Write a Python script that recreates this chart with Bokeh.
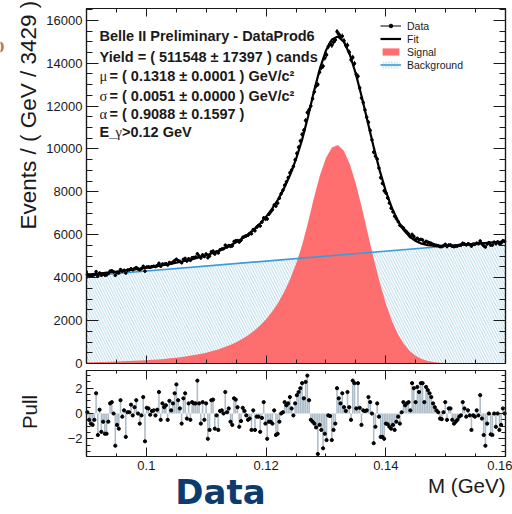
import numpy as np
from bokeh.plotting import figure
from bokeh.models import (Range1d, LinearAxis, FixedTicker, Label, Legend,
                          LegendItem)
from bokeh.embed import file_html
from bokeh.resources import INLINE

# ---------------------------------------------------------------- data ----
x_lo, x_hi = 0.09, 0.16

# events per bin (240 bins of 1/3429 GeV)
counts = [
    4144, 4115, 4103, 4106, 4140, 4283, 4079, 4217, 4112, 4173,
    4120, 4129, 4201, 4304, 4320, 4271, 4113, 4230, 4220, 4378,
    4302, 4344, 4216, 4355, 4365, 4414, 4369, 4422, 4470, 4410,
    4368, 4422, 4531, 4308, 4497, 4506, 4484, 4516, 4533, 4519,
    4562, 4670, 4534, 4636, 4629, 4654, 4590, 4707, 4671, 4724,
    4795, 4858, 4789, 4762, 4696, 4852, 4898, 4778, 4880, 4810,
    4928, 4942, 4963, 5112, 5008, 4919, 5063, 4988, 5104, 4932,
    5009, 5204, 5237, 5103, 5208, 5156, 5299, 5336, 5353, 5515,
    5436, 5498, 5459, 5485, 5686, 5723, 5728, 5661, 5745, 5879,
    5918, 5950, 5981, 6056, 6052, 6241, 6191, 6353, 6431, 6414,
    6594, 6788, 6740, 6742, 6962, 7068, 7167, 7384, 7343, 7478,
    7707, 7916, 8077, 8311, 8469, 8663, 8891, 9021, 9185, 9493,
    9795, 10082, 10375, 10682, 10875, 11328, 11700, 11830, 12009, 12341,
    12664, 12939, 13007, 13583, 13792, 13862, 14241, 14389, 14776, 14919,
    14835, 14982, 15084, 15471, 15356, 15234, 15260, 15045, 14832, 14838,
    14515, 14164, 14271, 13984, 13476, 13388, 12847, 12378, 12169, 11820,
    11482, 11249, 10863, 10429, 9852, 9665, 9531, 9113, 8668, 8396,
    8053, 7950, 7721, 7480, 7242, 7075, 6867, 6747, 6615, 6442,
    6385, 6320, 6201, 6123, 6041, 5911, 6016, 5926, 5785, 5835,
    5769, 5785, 5756, 5624, 5693, 5655, 5628, 5597, 5550, 5524,
    5503, 5489, 5450, 5449, 5491, 5553, 5452, 5523, 5527, 5465,
    5449, 5465, 5482, 5506, 5520, 5604, 5573, 5531, 5575, 5551,
    5472, 5564, 5563, 5607, 5584, 5710, 5578, 5488, 5431, 5569,
    5635, 5518, 5521, 5655, 5583, 5669, 5578, 5614, 5719, 5697,
]

# pull of each bin
pulls = [
    0.1, -0.5, -0.8, -0.9, -0.5, 1.6, -1.7, 0.3, -1.45, -0.65,
    -1.6, -1.6, -0.65, 0.8, 0.9, 0.0, -2.55, -0.9, -1.2, 1.05,
    -0.25, 0.25, -1.85, 0.1, 0.1, 0.7, -0.15, 0.5, 1.05, 0.0,
    -0.8, -0.15, 1.3, -2.2, 0.45, 0.4, -0.1, 0.2, 0.25, -0.15,
    0.3, 1.7, -0.5, 0.8, 0.5, 0.65, -0.5, 1.0, 0.25, 0.8,
    1.6, 2.3, 1.05, 0.4, -0.8, 1.2, 1.6, -0.4, 0.8, -0.5,
    0.9, 0.8, 0.8, 2.6, 0.8, -0.8, 0.9, -0.5, 0.8, -2.0,
    -1.3, 1.05, 1.1, -1.2, -0.15, -1.3, 0.2, 0.25, 0.0, 1.7,
    0.1, 0.4, -0.65, -0.9, 1.2, 1.1, 0.5, -1.05, -0.6, 0.45,
    0.2, -0.15, -0.5, -0.4, -1.3, 0.25, -1.3, -0.25, -0.25, -1.45,
    -0.35, 0.9, -0.8, -2.0, -0.65, -0.65, -0.8, 0.25, -1.7, -1.6,
    -0.65, 0.0, 0.1, 0.9, 0.65, 0.8, 1.3, 0.4, -0.15, 0.8,
    1.45, 1.7, 2.0, 2.4, 1.2, 2.5, 3.0, 1.05, -0.5, -0.65,
    -0.8, -1.1, -3.2, -0.9, -1.3, -2.75, -1.6, -2.1, -0.15, -0.2,
    -2.1, -1.3, -0.8, 2.0, 1.2, 0.8, 1.6, 0.5, 0.2, 1.7,
    0.5, -0.5, 2.6, 2.4, 0.4, 2.4, 0.45, -0.9, 0.25, 0.2,
    0.25, 1.3, 0.9, 0.0, -2.35, -1.05, 0.8, -0.25, -1.85, -1.85,
    -2.0, -0.8, -0.85, -1.05, -1.2, -0.9, -1.3, -0.65, -0.25, -0.8,
    0.1, 0.9, 0.65, 0.8, 0.9, 0.25, 2.4, 2.0, 0.9, 2.1,
    1.7, 2.4, 2.4, 0.9, 2.1, 1.85, 1.6, 1.3, 0.8, 0.5,
    0.25, 0.1, -0.4, -0.45, 0.1, 0.9, -0.5, 0.4, 0.4, -0.5,
    -0.8, -0.65, -0.5, -0.25, -0.15, 0.9, 0.4, -0.25, 0.25, -0.15,
    -1.3, -0.15, -0.25, 0.25, -0.15, 1.45, -0.4, -1.7, -2.55, -0.8,
    0.0, -1.65, -1.7, 0.0, -1.05, 0.0, -1.3, -0.9, 0.4, 0.0,
]

# signal component sampled every 1 MeV from 0.090 to 0.160 GeV
signal_curve = [
    54, 60, 66, 73, 81, 90, 100, 111, 123, 137,
    153, 171, 192, 215, 242, 272, 307, 347, 393, 446,
    506, 577, 658, 753, 863, 991, 1142, 1319, 1527, 1773,
    2065, 2411, 2824, 3321, 3915, 4633, 5501, 6556, 7728, 8773,
    9584, 10075, 10192, 9922, 9294, 8377, 7267, 6066, 4872, 3765,
    2801, 2004, 1380, 915, 583, 358, 211, 120, 66, 35,
    18, 9, 4, 2, 1, 0, 0, 0, 0, 0, 0,
]

# total fit (signal + background) on the same 1 MeV grid
fit_curve = [
    4134, 4163, 4192, 4222, 4254, 4286, 4319, 4353, 4388, 4425,
    4464, 4506, 4550, 4596, 4646, 4699, 4757, 4820, 4890, 4966,
    5049, 5143, 5247, 5365, 5498, 5650, 5824, 6024, 6255, 6524,
    6839, 7208, 7645, 8165, 8782, 9523, 10414, 11492, 12687, 13755,
    14590, 15104, 15244, 14997, 14392, 13498, 12411, 11234, 10063, 8979,
    8038, 7264, 6663, 6221, 5913, 5711, 5587, 5519, 5488, 5480,
    5486, 5500, 5519, 5540, 5562, 5584, 5607, 5630, 5653, 5676, 5700,
]

# linear background at the two ends of the range
bkg_ends = [4080, 5700]

x_ticks = [0.1, 0.12, 0.14, 0.16]
x_tick_labels = ["0.1", "0.12", "0.14", "0.16"]
y_ticks = [0, 2000, 4000, 6000, 8000, 10000, 12000, 14000, 16000]
pull_ticks = [-2, 0, 2]

# ------------------------------------------------------------ geometry ----
n_bins = len(counts)
edges = np.linspace(x_lo, x_hi, n_bins + 1)
centers = 0.5 * (edges[:-1] + edges[1:])
bw = edges[1] - edges[0]
cnt = np.array(counts, dtype=float)
err = np.sqrt(cnt)
curve_x = np.linspace(x_lo, x_hi, len(signal_curve))

FONT = "Liberation Sans"
INK = "#1a1a1a"
Y_TOP = 16550
P_LO, P_HI = -3.4, 3.4

# pixel layout: one canvas holding the main frame and the pull frame
W, H = 512, 514
L, R = 86, 505
M_TOP, M_BOT = 8, 363
P_TOP, P_BOT = 370, 456

sx = (x_hi - x_lo) / (R - L)
sy = Y_TOP / (M_BOT - M_TOP)
sp = (P_HI - P_LO) / (P_BOT - P_TOP)


def X(px):
    return x_lo + (px - L) * sx


def Y(py):
    return (M_BOT - py) * sy


p = figure(width=W, height=H, output_backend="svg", toolbar_location=None,
           title=None, x_axis_location=None, y_axis_location=None,
           x_range=Range1d(X(0), X(W)), y_range=Range1d(Y(H), Y(0)),
           min_border=0)
p.extra_y_ranges = {"pull": Range1d(P_LO - (H - P_BOT) * sp,
                                    P_HI + P_TOP * sp)}
p.grid.visible = False
p.outline_line_color = None
p.background_fill_color = "white"
p.border_fill_color = "white"


def axis(side, loc, bounds, majors, minors, tick_len, labels=False,
         y_range_name="default", overrides=None):
    ax = LinearAxis(ticker=FixedTicker(ticks=majors, minor_ticks=minors),
                    fixed_location=loc, bounds=bounds,
                    y_range_name=y_range_name)
    ax.major_tick_in = tick_len
    ax.minor_tick_in = tick_len
    ax.major_tick_out = 0
    ax.minor_tick_out = 0
    ax.axis_line_color = INK
    ax.axis_line_width = 1.2
    ax.major_tick_line_color = INK
    ax.minor_tick_line_color = INK
    ax.major_label_text_font = FONT
    ax.major_label_text_font_size = "13px"
    ax.major_label_text_color = INK
    ax.major_label_standoff = 4
    if overrides:
        ax.major_label_overrides = overrides
    p.add_layout(ax, side)


x_minor = [float(v) for v in np.round(np.arange(0.09, 0.1601, 0.005), 4)]
y_minor = list(range(0, 16501, 500))
p_minor = [float(v) for v in np.arange(-3.0, 3.01, 0.5)]
XB = (x_lo, x_hi)
YB = (0, Y_TOP)
PB = (P_LO, P_HI)

# main frame: labelled left axis, plain ticks on the other three edges
axis("left", x_lo, YB, y_ticks, [], 12, labels=True)
axis("left", x_lo, YB, [], y_minor, 6)
axis("right", x_hi, YB, [], y_ticks, 12)
axis("right", x_hi, YB, [], y_minor, 6)
axis("above", Y_TOP, XB, [], x_ticks, 8)
axis("above", Y_TOP, XB, [], x_minor, 4)
axis("below", 0, XB, [], x_ticks, 8)
axis("below", 0, XB, [], x_minor, 4)

# pull frame
axis("left", x_lo, PB, pull_ticks, [], 7, labels=True, y_range_name="pull")
axis("left", x_lo, PB, [], p_minor, 4, y_range_name="pull")
axis("right", x_hi, PB, [], pull_ticks, 7, y_range_name="pull")
axis("right", x_hi, PB, [], p_minor, 4, y_range_name="pull")
axis("above", P_HI, XB, [], x_ticks, 9, y_range_name="pull")
axis("above", P_HI, XB, [], x_minor, 3, y_range_name="pull")
axis("below", P_LO, XB, x_ticks, [], 9, labels=True, y_range_name="pull",
     overrides=dict(zip(x_ticks, x_tick_labels)))
axis("below", P_LO, XB, [], x_minor, 3, y_range_name="pull")

# ---------------------------------------------------------- main panel ----
bkg_area = p.varea(x=[x_lo, x_hi], y1=[0, 0], y2=bkg_ends,
                   fill_color=None, fill_alpha=0,
                   hatch_pattern="\\", hatch_color="#9fcbe2",
                   hatch_weight=0.8, hatch_scale=5.5)
sig_area = p.varea(x=curve_x, y1=0, y2=signal_curve,
                   fill_color="#ff5f5f", fill_alpha=0.9)
bkg_line = p.line(x=[x_lo, x_hi], y=bkg_ends, line_color="#3d9bd6",
                  line_width=1.6)
fit_line = p.line(x=curve_x, y=fit_curve, line_color="black", line_width=2.2)

p.segment(x0=centers, y0=cnt - err, x1=centers, y1=cnt + err,
          line_color="black", line_width=1)
data_h = p.segment(x0=centers - bw / 2, y0=cnt, x1=centers + bw / 2, y1=cnt,
                   line_color="black", line_width=1)
data_pts = p.scatter(x=centers, y=cnt, size=2.6, color="black")

# vertical error-bar stroke of the first bin, also used as the legend key
data_key = p.scatter(x=centers[:1], y=cnt[:1], marker="dash", angle=np.pi / 2,
                     size=8, line_color="black", line_width=1)

legend = Legend(items=[
    LegendItem(label="Data", renderers=[data_h, data_key, data_pts]),
    LegendItem(label="Fit", renderers=[fit_line]),
    LegendItem(label="Signal", renderers=[sig_area]),
    LegendItem(label="Background", renderers=[bkg_area, bkg_line]),
], location=(380, H - 71))
legend.label_text_font = FONT
legend.label_text_font_size = "10.5px"
legend.label_text_color = INK
legend.glyph_width = 21
legend.glyph_height = 9
legend.label_height = 13
legend.label_standoff = 6
legend.spacing = 0
legend.padding = 0
legend.margin = 0
legend.background_fill_alpha = 0
legend.border_line_color = None
p.add_layout(legend)

# fit summary
bold = dict(text_font=FONT, text_font_style="bold", text_font_size="14.5px",
            text_color=INK, text_baseline="middle")
greek = dict(text_font="Liberation Serif", text_font_size="14.5px",
             text_color=INK, text_baseline="middle")
p.add_layout(Label(x=X(99), y=Y(35), text="Belle II Preliminary - DataProd6",
                   **bold))
p.add_layout(Label(x=X(99), y=Y(56),
                   text="Yield = ( 511548  \u00b1 17397 ) cands", **bold))
for py, g, rest in [(75.5, "\u03bc", "= ( 0.1318  \u00b1 0.0001 ) GeV/c\u00b2"),
                    (95.5, "\u03c3", "= ( 0.0051  \u00b1 0.0000 ) GeV/c\u00b2"),
                    (113.5, "\u03b1", "= ( 0.9088  \u00b1 0.1597 )")]:
    p.add_layout(Label(x=X(99), y=Y(py), text=g, **greek))
    p.add_layout(Label(x=X(109), y=Y(py), text=rest, **bold))
p.add_layout(Label(x=X(99), y=Y(131), text="E_", **bold))
p.add_layout(Label(x=X(115), y=Y(131), text="\u03b3", **greek))
p.add_layout(Label(x=X(121.5), y=Y(131), text=">0.12 GeV", **bold))

# axis titles and captions
mid = dict(text_baseline="middle", text_font=FONT, text_color=INK)
p.add_layout(Label(x=X(28), y=Y(229), text="Events / ( GeV / 3429 )",
                   angle=np.pi / 2, text_align="left",
                   text_font_size="22.5px", **mid))
p.add_layout(Label(x=X(4), y=Y(47), text="O", text_align="right",
                   text_baseline="middle", text_font=FONT,
                   text_font_style="bold", text_font_size="17px",
                   text_color="#c8743a"))
p.add_layout(Label(x=X(29), y=Y(411.5), text="Pull", angle=np.pi / 2,
                   text_align="center", text_font_size="20.5px", **mid))
p.add_layout(Label(x=X(505), y=Y(485), text="M (GeV)", text_align="right",
                   text_font_size="20.5px", **mid))
p.add_layout(Label(x=X(220), y=Y(491), text="Data", text_align="center",
                   text_baseline="middle", text_font="DejaVu Sans",
                   text_font_style="bold", text_font_size="34px",
                   text_color="#0d3b6e"))

# ---------------------------------------------------------- pull panel ----
p.vbar(x=centers, top=pulls, bottom=0, width=bw * 0.9,
       fill_color="#adbdc9", line_color=None, y_range_name="pull")
p.scatter(x=centers, y=pulls, size=3.2, color="black", y_range_name="pull")

open("out.html", "w").write(file_html(p, INLINE))
